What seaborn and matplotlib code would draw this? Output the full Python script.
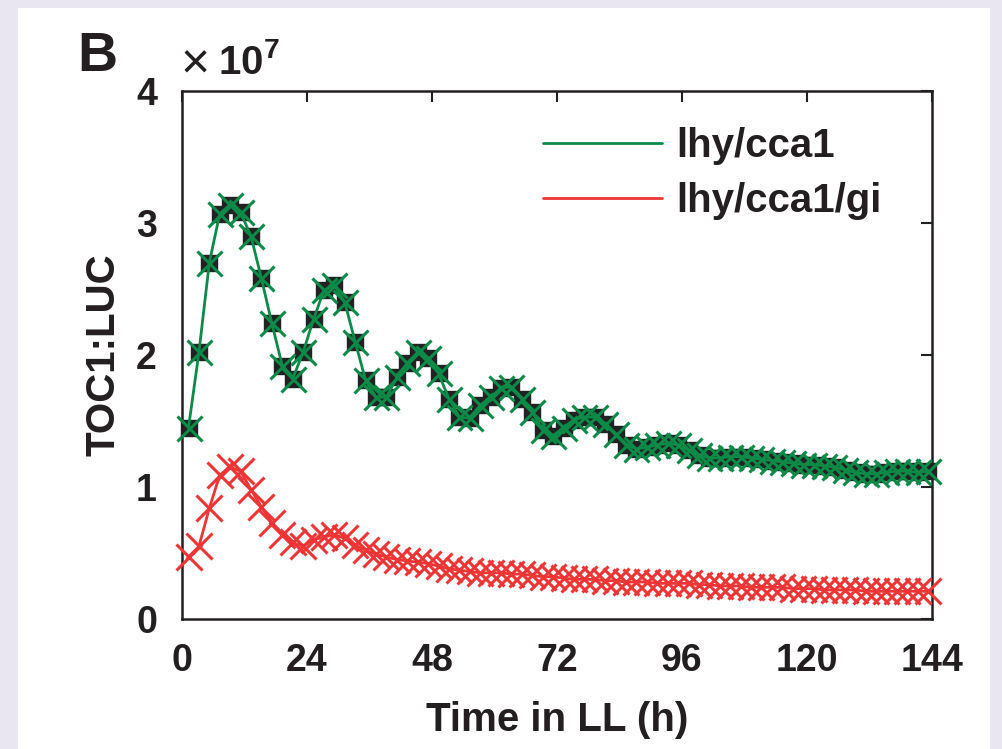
import numpy as np
import pandas as pd
import seaborn as sns
import matplotlib.pyplot as plt
from matplotlib.patches import Rectangle

sns.set_theme(style='white')
plt.rcParams['font.family'] = ['Liberation Sans', 'DejaVu Sans']
plt.rcParams['font.weight'] = 'bold'
plt.rcParams['mathtext.fontset'] = 'custom'
plt.rcParams['mathtext.rm'] = 'Liberation Sans'
plt.rcParams['mathtext.bf'] = 'Liberation Sans:bold'

# sampling times in LL (h), every 2 h
t = np.arange(1.25, 144, 2)

# TOC1:LUC in units of 1e7
lhy_cca1 = [1.45, 2.02, 2.70, 3.07, 3.14, 3.08, 2.90, 2.58, 2.24, 1.92,
            1.82, 2.02, 2.27, 2.49, 2.53, 2.40, 2.10, 1.81, 1.68, 1.68,
            1.83, 1.94, 2.02, 1.98, 1.86, 1.67, 1.53, 1.52, 1.62, 1.68,
            1.75, 1.76, 1.67, 1.57, 1.43, 1.39, 1.45, 1.51, 1.53, 1.53,
            1.48, 1.40, 1.32, 1.29, 1.30, 1.32, 1.33, 1.32, 1.28, 1.24,
            1.22, 1.22, 1.23, 1.23, 1.22, 1.21, 1.20, 1.19, 1.18, 1.17,
            1.17, 1.16, 1.15, 1.13, 1.11, 1.10, 1.10, 1.11, 1.12, 1.12,
            1.11, 1.12]
lhy_cca1_gi = [0.47, 0.55, 0.84, 1.09, 1.15, 1.12, 0.98, 0.85, 0.73, 0.64,
               0.58, 0.55, 0.60, 0.62, 0.64, 0.61, 0.56, 0.52, 0.49, 0.47,
               0.45, 0.44, 0.43, 0.42, 0.40, 0.38, 0.37, 0.36, 0.35, 0.35,
               0.35, 0.34, 0.34, 0.33, 0.32, 0.32, 0.31, 0.30, 0.30, 0.30,
               0.29, 0.29, 0.28, 0.28, 0.28, 0.27, 0.27, 0.27, 0.27, 0.26,
               0.26, 0.25, 0.25, 0.25, 0.24, 0.24, 0.24, 0.24, 0.23, 0.23,
               0.23, 0.22, 0.22, 0.22, 0.22, 0.21, 0.21, 0.21, 0.21, 0.21,
               0.21, 0.21]
labels = ['lhy/cca1', 'lhy/cca1/gi']
green = '#0b8a48'
red = '#ee3535'
ink = '#231f20'

df = pd.DataFrame({'t': t, 'g': lhy_cca1, 'r': lhy_cca1_gi})

fig = plt.figure(figsize=(10.03, 7.49), dpi=100)
fig.patch.set_facecolor('#e9e5f1')
panel = Rectangle((18/1003, 0), 972/1003, 741/749, transform=fig.transFigure,
                  facecolor='white', edgecolor='none', zorder=-10)
fig.add_artist(panel)
ax = fig.add_axes([182/1003, 130/749, 750/1003, 528/749])
ax.set_zorder(5)
ax.patch.set_alpha(0)

# black squares under the green crosses
ax.plot(df['t'], df['g'], linestyle='none', marker='s', markersize=11,
        color='#222222', clip_on=False, zorder=2)
sns.lineplot(data=df, x='t', y='g', ax=ax, color=green, lw=2, marker='x',
             markersize=18, markeredgewidth=2.2, markeredgecolor=green,
             clip_on=False, zorder=3, label=labels[0])
sns.lineplot(data=df, x='t', y='r', ax=ax, color=red, lw=2, marker='x',
             markersize=19, markeredgewidth=2.2, markeredgecolor=red,
             clip_on=False, zorder=3, label=labels[1])

ax.set_xlim(0, 144)
ax.set_ylim(0, 4)
ax.set_xticks([0, 24, 48, 72, 96, 120, 144])
ax.set_yticks([0, 1, 2, 3, 4])
ax.tick_params(direction='in', length=8, width=1.5, top=True, right=True,
               labelsize=27, colors=ink)
ax.tick_params(axis='x', pad=17)
ax.tick_params(axis='y', pad=18)
for lab in ax.get_xticklabels() + ax.get_yticklabels():
    lab.set_fontweight('bold')
for s in ax.spines.values():
    s.set_linewidth(1.8)
    s.set_color(ink)

ax.set_xlabel('Time in LL (h)', fontsize=29, fontweight='bold', color=ink, labelpad=16)
ax.set_ylabel('TOC1:LUC', fontsize=29, fontweight='bold', color=ink, labelpad=10)

leg = ax.legend(loc='upper left', bbox_to_anchor=(543/1003, 1 - 127/749),
                bbox_transform=fig.transFigure, frameon=False, borderpad=0,
                borderaxespad=0, fontsize=29, handlelength=2.95,
                handletextpad=0.35, labelspacing=0.42)
for h in leg.legend_handles:
    h.set_marker('')
for txt in leg.get_texts():
    txt.set_fontweight('bold')
    txt.set_color(ink)

fig.text(181/1003, 1 - 66/749, '×', fontsize=36, fontweight='normal', color=ink,
         ha='left', va='center')
fig.text(218/1003, 1 - 62/749, r'$\mathbf{10^{7}}$', fontsize=29, color=ink,
         ha='left', va='center')
fig.text(77/1003, 1 - 57/749, 'B', fontsize=40, fontweight='bold', color=ink,
         ha='left', va='center')

fig.savefig('out.png', dpi=100, facecolor=fig.get_facecolor())
